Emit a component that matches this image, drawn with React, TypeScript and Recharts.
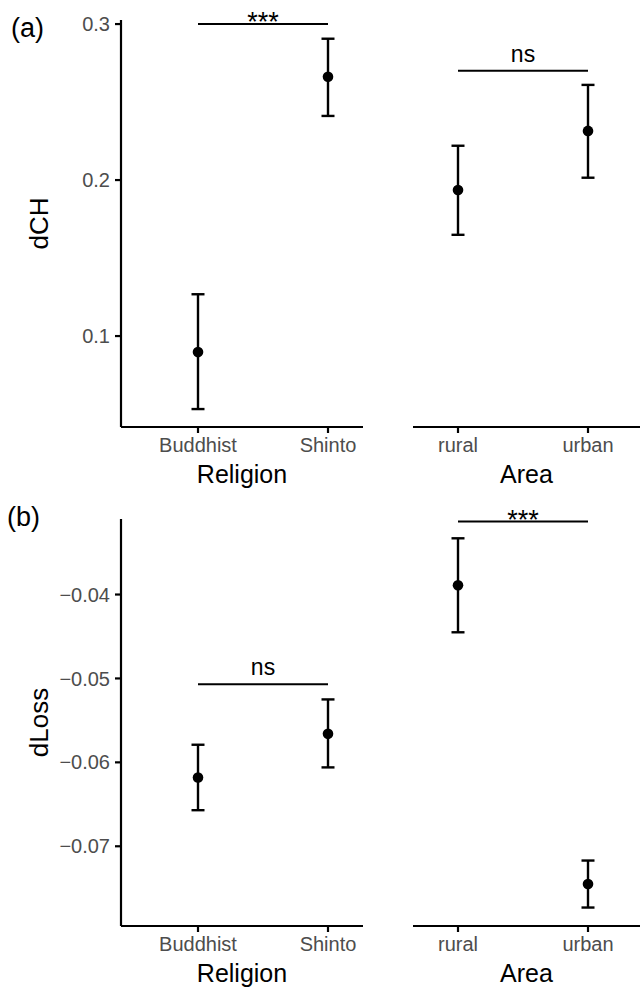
import { ComposedChart, ErrorBar, Line, ReferenceLine, XAxis, YAxis } from 'recharts';

const religion = ['Buddhist', 'Shinto'];
const area = ['rural', 'urban'];

// (a) dCH
const dchReligionMean = [0.0897, 0.2662];
const dchReligionLow = [0.0532, 0.2411];
const dchReligionHigh = [0.1268, 0.2906];
const dchAreaMean = [0.1936, 0.2315];
const dchAreaLow = [0.1649, 0.2015];
const dchAreaHigh = [0.222, 0.261];

// (b) dLoss
const dlossReligionMean = [-0.0618, -0.0566];
const dlossReligionLow = [-0.0657, -0.0606];
const dlossReligionHigh = [-0.0579, -0.0525];
const dlossAreaMean = [-0.0389, -0.0745];
const dlossAreaLow = [-0.0445, -0.0773];
const dlossAreaHigh = [-0.0333, -0.0717];

const dchTicks = [0.1, 0.2, 0.3];
const dlossTicks = [-0.07, -0.06, -0.05, -0.04];
const dchDomain = [0.0417, 0.3026];
const dlossDomain = [-0.0795, -0.031];

// significance brackets
const sigLabels = ['***', 'ns', 'ns', '***'];
const sigLevels = [0.3, 0.27, -0.0507, -0.0313];

const FONT = '"Liberation Sans", Arial, sans-serif';

const fmtDch = (v: number) => v.toFixed(1);
const fmtDloss = (v: number) => (v < 0 ? '\u2212' : '') + Math.abs(v).toFixed(2);

interface PanelProps {
  cats: string[];
  mean: number[];
  low: number[];
  high: number[];
  domain: number[];
  ticks: number[];
  fmt: (v: number) => string;
  showY: boolean;
  yLabel?: string;
  xLabel: string;
  sig: string;
  sigY: number;
  width: number;
  margin: { top: number; right: number; bottom: number; left: number };
  pad: { left: number; right: number };
}

function Panel(p: PanelProps) {
  const rows = p.cats.map((c, i) => ({
    cat: c,
    mean: p.mean[i],
    err: [p.mean[i] - p.low[i], p.high[i] - p.mean[i]],
  }));
  const stars = p.sig !== 'ns';
  return (
    <ComposedChart width={p.width} height={500} data={rows} margin={p.margin} style={{ fontFamily: FONT }}>
      <XAxis
        dataKey="cat"
        type="category"
        scale="point"
        padding={p.pad}
        height={70}
        stroke="#000"
        strokeWidth={2.2}
        tickSize={6}
        tickMargin={5}
        tick={{ fill: '#4d4d4d', fontSize: 20 }}
        label={{ value: p.xLabel, position: 'insideBottom', offset: 14, fill: '#000', fontSize: 25 }}
      />
      <YAxis
        hide={!p.showY}
        type="number"
        domain={p.domain}
        allowDataOverflow
        ticks={p.ticks}
        tickFormatter={p.fmt}
        width={121}
        stroke="#000"
        strokeWidth={2.2}
        tickSize={6}
        tickMargin={5}
        tick={{ fill: '#4d4d4d', fontSize: 20 }}
        label={
          p.yLabel
            ? { value: p.yLabel, angle: -90, position: 'insideLeft', offset: 39, fill: '#000', fontSize: 26, style: { textAnchor: 'middle' } }
            : undefined
        }
      />
      <ReferenceLine
        segment={[
          { x: p.cats[0], y: p.sigY },
          { x: p.cats[1], y: p.sigY },
        ]}
        stroke="#000"
        strokeWidth={2}
        ifOverflow="visible"
        label={{ value: p.sig, position: 'top', offset: stars ? -7 : 9, fill: '#000', fontSize: stars ? 27 : 23 }}
      />
      <Line
        dataKey="mean"
        stroke="none"
        isAnimationActive={false}
        activeDot={false}
        dot={{ r: 5.3, fill: '#000', stroke: '#000', strokeWidth: 0 }}
      >
        <ErrorBar dataKey="err" direction="y" width={6.5} stroke="#000" strokeWidth={2.4} isAnimationActive={false} />
      </Line>
    </ComposedChart>
  );
}

const leftMargin = { top: 20, right: 17, bottom: 3, left: 0 };
const rightMargin = { top: 20, right: 0, bottom: 3, left: 33 };
const leftPad = { left: 77, right: 35 };
const rightPad = { left: 45, right: 52 };

export default function App() {
  return (
    <div style={{ position: 'absolute', left: 0, top: 0, width: 640, height: 989, background: '#fff', fontFamily: FONT }}>
      <div style={{ position: 'absolute', left: 0, top: 0 }}>
        <Panel cats={religion} mean={dchReligionMean} low={dchReligionLow} high={dchReligionHigh}
          domain={dchDomain} ticks={dchTicks} fmt={fmtDch} showY yLabel="dCH" xLabel="Religion"
          sig={sigLabels[0]} sigY={sigLevels[0]} width={380} margin={leftMargin} pad={leftPad} />
      </div>
      <div style={{ position: 'absolute', left: 380, top: 0 }}>
        <Panel cats={area} mean={dchAreaMean} low={dchAreaLow} high={dchAreaHigh}
          domain={dchDomain} ticks={dchTicks} fmt={fmtDch} showY={false} xLabel="Area"
          sig={sigLabels[1]} sigY={sigLevels[1]} width={260} margin={rightMargin} pad={rightPad} />
      </div>
      <div style={{ position: 'absolute', left: 0, top: 499 }}>
        <Panel cats={religion} mean={dlossReligionMean} low={dlossReligionLow} high={dlossReligionHigh}
          domain={dlossDomain} ticks={dlossTicks} fmt={fmtDloss} showY yLabel="dLoss" xLabel="Religion"
          sig={sigLabels[2]} sigY={sigLevels[2]} width={380} margin={leftMargin} pad={leftPad} />
      </div>
      <div style={{ position: 'absolute', left: 380, top: 499 }}>
        <Panel cats={area} mean={dlossAreaMean} low={dlossAreaLow} high={dlossAreaHigh}
          domain={dlossDomain} ticks={dlossTicks} fmt={fmtDloss} showY={false} xLabel="Area"
          sig={sigLabels[3]} sigY={sigLevels[3]} width={260} margin={rightMargin} pad={rightPad} />
      </div>
      <div style={{ position: 'absolute', left: 11, top: 12, fontSize: 27, lineHeight: '32px', color: '#000' }}>(a)</div>
      <div style={{ position: 'absolute', left: 7, top: 501, fontSize: 27, lineHeight: '32px', color: '#000' }}>(b)</div>
    </div>
  );
}
